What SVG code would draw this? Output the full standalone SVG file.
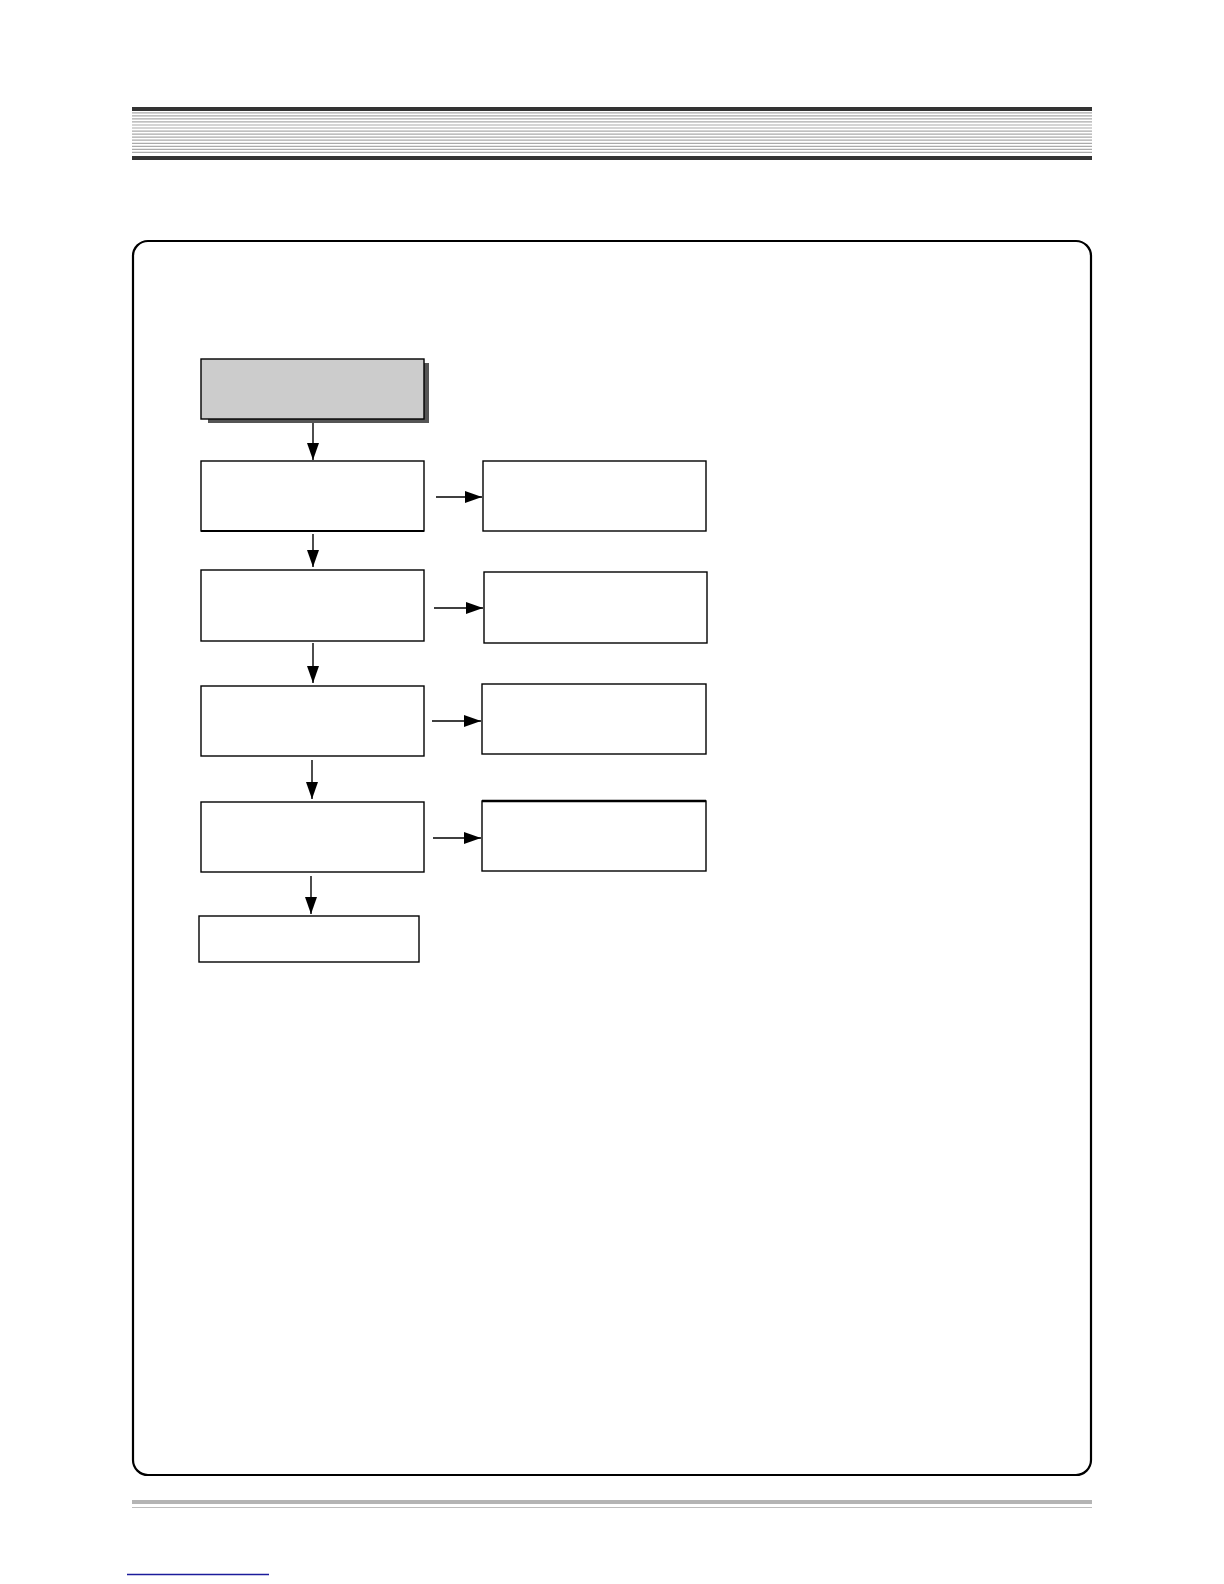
<svg xmlns="http://www.w3.org/2000/svg" width="1224" height="1584" viewBox="0 0 1224 1584">
<style>
.box{fill:#fff;stroke:#000;stroke-width:1.4}
.con{stroke:#000;stroke-width:1.4;fill:none;marker-end:url(#ah)}
.hl{stroke:#aaa;stroke-width:1.2}
</style>
<defs>
<marker id="ah" markerUnits="userSpaceOnUse" markerWidth="18" markerHeight="12" viewBox="0 0 18 12" refX="17" refY="6" orient="auto">
<path d="M0,0 L17,6 L0,12 Z" fill="#000"/>
</marker>
</defs>
<rect width="1224" height="1584" fill="#fff"/>
<g id="header">
<rect x="132" y="107" width="960" height="4" fill="#333"/>
<line class="hl" x1="132" x2="1092" y1="112.8" y2="112.8"/>
<line class="hl" x1="132" x2="1092" y1="115.8" y2="115.8"/>
<line class="hl" x1="132" x2="1092" y1="118.9" y2="118.9"/>
<line class="hl" x1="132" x2="1092" y1="121.9" y2="121.9"/>
<line class="hl" x1="132" x2="1092" y1="125" y2="125"/>
<line class="hl" x1="132" x2="1092" y1="128" y2="128"/>
<line class="hl" x1="132" x2="1092" y1="131.1" y2="131.1"/>
<line class="hl" x1="132" x2="1092" y1="134.1" y2="134.1"/>
<line class="hl" x1="132" x2="1092" y1="137.2" y2="137.2"/>
<line class="hl" x1="132" x2="1092" y1="140.2" y2="140.2"/>
<line class="hl" x1="132" x2="1092" y1="143.3" y2="143.3"/>
<line class="hl" x1="132" x2="1092" y1="146.3" y2="146.3"/>
<line class="hl" x1="132" x2="1092" y1="149.4" y2="149.4"/>
<line class="hl" x1="132" x2="1092" y1="152.4" y2="152.4"/>
<rect x="132" y="156" width="960" height="4" fill="#333"/>
</g>
<rect id="frame" x="133" y="241" width="958" height="1234" rx="15" ry="15" fill="none" stroke="#000" stroke-width="2.2"/>
<g id="connectors">
<line class="con" x1="313" y1="419" x2="313" y2="460"/>
<line class="con" x1="313" y1="534" x2="313" y2="567"/>
<line class="con" x1="313" y1="643" x2="313" y2="683"/>
<line class="con" x1="312" y1="760" x2="312" y2="799"/>
<line class="con" x1="311" y1="876" x2="311" y2="914"/>
<line class="con" x1="436" y1="497" x2="482" y2="497"/>
<line class="con" x1="434" y1="608" x2="483" y2="608"/>
<line class="con" x1="432" y1="721" x2="481" y2="721"/>
<line class="con" x1="433" y1="838" x2="481" y2="838"/>
</g>
<g id="start">
<rect x="208" y="363" width="221" height="60" fill="#555"/>
<rect x="201" y="359" width="223" height="60" fill="#ccc" stroke="#000" stroke-width="1.4"/>
</g>
<g id="n1"><rect class="box" x="201" y="461" width="223" height="70"/><line x1="201" y1="531" x2="424" y2="531" stroke="#000" stroke-width="2"/></g>
<g id="r1"><rect class="box" x="483" y="461" width="223" height="70"/></g>
<g id="n2"><rect class="box" x="201" y="570" width="223" height="71"/></g>
<g id="r2"><rect class="box" x="484" y="572" width="223" height="71"/></g>
<g id="n3"><rect class="box" x="201" y="686" width="223" height="70"/></g>
<g id="r3"><rect class="box" x="482" y="684" width="224" height="70"/></g>
<g id="n4"><rect class="box" x="201" y="802" width="223" height="70"/></g>
<g id="r4"><rect class="box" x="482" y="801" width="224" height="70"/><line x1="482" y1="801" x2="706" y2="801" stroke="#000" stroke-width="2.4"/></g>
<g id="n5"><rect class="box" x="199" y="916" width="220" height="46"/></g>
<g id="footer">
<rect x="132" y="1500" width="960" height="4" fill="#b4b4b4"/>
<line x1="132" x2="1092" y1="1507.5" y2="1507.5" stroke="#bdbdbd" stroke-width="1"/>
<line x1="127" x2="269" y1="1574.5" y2="1574.5" stroke="#1c1c9c" stroke-width="1.5"/>
</g>
</svg>
